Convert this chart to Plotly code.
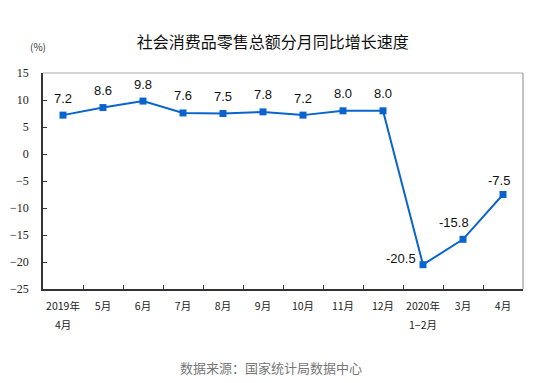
import plotly.graph_objects as go

categories = ["2019年4月", "5月", "6月", "7月", "8月", "9月", "10月", "11月", "12月", "2020年1−2月", "3月", "4月"]
tick_line1 = ["2019年", "5月", "6月", "7月", "8月", "9月", "10月", "11月", "12月", "2020年", "3月", "4月"]
tick_line2 = ["4月", "", "", "", "", "", "", "", "", "1−2月", "", ""]
values = [7.2, 8.6, 9.8, 7.6, 7.5, 7.8, 7.2, 8.0, 8.0, -20.5, -15.8, -7.5]
y_ticks = [15, 10, 5, 0, -5, -10, -15, -20, -25]

color = "#0A64CE"
fig = go.Figure()
fig.add_trace(go.Scatter(
    x=categories, y=values, mode="lines+markers",
    line=dict(color=color, width=2),
    marker=dict(symbol="square", size=7, color=color),
    cliponaxis=False, hoverinfo="skip"
))

# label offsets (xshift, yshift, xanchor)
for c, v in zip(categories, values):
    if v == -20.5:
        xs, ys, xa = -5, 6, "right"
    elif v == -15.8:
        xs, ys, xa = -9, 17, "center"
    elif v == -7.5:
        xs, ys, xa = -4, 14, "center"
    else:
        xs, ys, xa = 0, 17, "center"
    fig.add_annotation(x=c, y=v, text=f"{v:.1f}", showarrow=False,
                       xshift=xs, yshift=ys, xanchor=xa, yanchor="middle",
                       font=dict(family="Liberation Sans", size=13, color="#111111"))

# second line of x tick labels
for c, t in zip(categories, tick_line2):
    if t:
        fig.add_annotation(x=c, xref="x", yref="paper", y=-(324 - 289) / 216, text=t,
                           showarrow=False, xanchor="center", yanchor="middle",
                           font=dict(family="Noto Sans CJK SC", size=10.5, color="#222222"))

fig.update_layout(
    width=535, height=383,
    margin=dict(l=43, r=12, t=73, b=94, autoexpand=False),
    paper_bgcolor="white", plot_bgcolor="white",
    showlegend=False,
    title=dict(text="社会消费品零售总额分月同比增长速度", x=0.51, xanchor="center",
               y=1 - 42/383, yanchor="middle",
               font=dict(family="Noto Sans CJK SC", size=16, color="#111111")),
    xaxis=dict(
        type="category", showline=True, linecolor="#333333", linewidth=1.5,
        mirror=False, ticks="inside", ticklen=4, tickcolor="#333333",
        tickson="boundaries", showgrid=False, zeroline=False, tickangle=0,
        automargin=False, ticklabelstandoff=7,
        tickvals=categories, ticktext=tick_line1,
        tickfont=dict(family="Noto Sans CJK SC", size=10.5, color="#222222"),
        range=[-0.5, len(categories) - 0.5], fixedrange=True,
    ),
    yaxis=dict(
        range=[-25, 15], tickvals=y_ticks, showline=True, linecolor="#333333",
        linewidth=1.5, ticks="inside", ticklen=4, tickcolor="#333333",
        showgrid=False, zeroline=False, automargin=False, ticklabelstandoff=10,
        tickfont=dict(family="Liberation Serif", size=12, color="#222222"),
        fixedrange=True,
    ),
    shapes=[
        dict(type="line", xref="paper", yref="paper", x0=0, x1=1, y0=1, y1=1,
             line=dict(color="#AAAAAA", width=1)),
        dict(type="line", xref="paper", yref="paper", x0=1, x1=1, y0=0, y1=1,
             line=dict(color="#888888", width=1)),
    ],
)

fig.add_annotation(text="(%)", xref="paper", yref="paper", x=-0.01, y=1 + 26/216,
                   showarrow=False, xanchor="center", yanchor="middle",
                   font=dict(family="Noto Sans CJK SC", size=10, color="#333333"))
fig.add_annotation(text="数据来源：国家统计局数据中心", xref="paper", yref="paper",
                   x=0.475, y=-(367 - 289) / 216, showarrow=False,
                   xanchor="center", yanchor="middle",
                   font=dict(family="Noto Sans CJK SC", size=13, color="#777777"))

fig.write_html("out.html", config={"displayModeBar": False},
               post_script="document.body.style.margin='0';")
